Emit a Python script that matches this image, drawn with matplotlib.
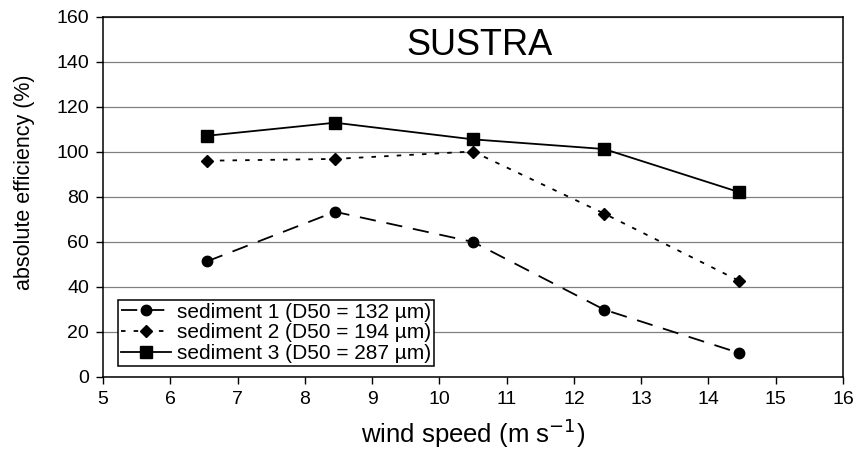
import matplotlib
matplotlib.use("Agg")
import matplotlib.pyplot as plt

plt.rcParams['font.family'] = ['Liberation Sans', 'DejaVu Sans']

# wind speed (m/s)
wind = [6.55, 8.45, 10.5, 12.45, 14.45]
# absolute efficiency (%)
sed1 = [51.4, 73.4, 60.0, 29.9, 10.7]
sed2 = [96.1, 96.9, 100.2, 72.6, 42.8]
sed3 = [107.2, 113.0, 105.6, 101.3, 82.2]
labels = ['sediment 1 (D50 = 132 µm)',
          'sediment 2 (D50 = 194 µm)',
          'sediment 3 (D50 = 287 µm)']

fig = plt.figure(figsize=(8.58, 4.53), dpi=100)
ax = fig.add_axes([0.120, 0.168, 0.8625, 0.7945])

ax.plot(wind, sed1, color='black', lw=1.3, dashes=(9, 6),
        marker='o', ms=7.5, label=labels[0])
ax.plot(wind, sed2, color='black', lw=1.3, dashes=(2.5, 4.5),
        marker='D', ms=6.5, label=labels[1])
ax.plot(wind, sed3, color='black', lw=1.3, ls='-',
        marker='s', ms=8, label=labels[2])

ax.set_xlim(5, 16)
ax.set_ylim(0, 160)
ax.set_xticks(range(5, 17))
ax.set_yticks(range(0, 161, 20))
ax.yaxis.grid(True, color='#808080', lw=0.9)
ax.set_axisbelow(True)
ax.tick_params(labelsize=14, length=5, width=1, direction='out', pad=5)
for s in ax.spines.values():
    s.set_linewidth(1.1)

ax.set_xlabel('wind speed (m s$^{-1}$)', fontsize=18.5, labelpad=6)
ax.set_ylabel('absolute efficiency (%)', fontsize=15.5)
ax.yaxis.set_label_coords(-0.092, 0.54)
ax.text(10.6, 147.5, 'SUSTRA', fontsize=26, ha='center', va='center')

leg = ax.legend(loc='lower left', bbox_to_anchor=(0.02, 0.03), fontsize=15,
                frameon=True, fancybox=False, edgecolor='black',
                framealpha=1, borderpad=0.15, labelspacing=0.08,
                handlelength=2.4, handletextpad=0.3, borderaxespad=0)
leg.get_frame().set_linewidth(1.1)

fig.savefig('out.png', dpi=100)
